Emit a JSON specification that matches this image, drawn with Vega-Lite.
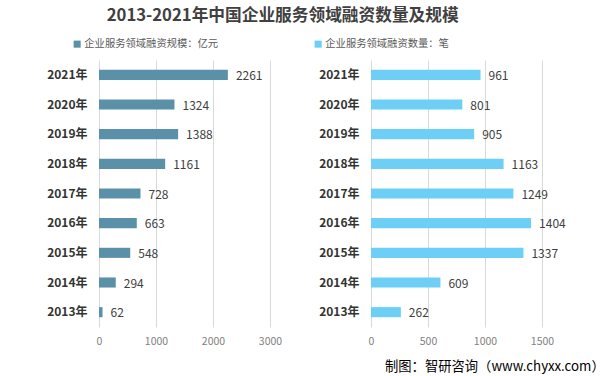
{
  "$schema": "https://vega.github.io/schema/vega-lite/v6.json",
  "padding": {"left": 46, "top": 8, "right": 32, "bottom": 2},
  "background": "#ffffff",
  "title": {
    "text": "2013-2021年中国企业服务领域融资数量及规模",
    "fontSize": 16.7,
    "fontWeight": "bold",
    "color": "#404040",
    "font": "Noto Sans CJK SC",
    "anchor": "middle",
    "dx": -43,
    "offset": 14
  },
  "datasets": {
    "d": [
      {"year": "2013年", "scale": 62, "count": 262},
      {"year": "2014年", "scale": 294, "count": 609},
      {"year": "2015年", "scale": 548, "count": 1337},
      {"year": "2016年", "scale": 663, "count": 1404},
      {"year": "2017年", "scale": 728, "count": 1249},
      {"year": "2018年", "scale": 1161, "count": 1163},
      {"year": "2019年", "scale": 1388, "count": 905},
      {"year": "2020年", "scale": 1324, "count": 801},
      {"year": "2021年", "scale": 2261, "count": 961}
    ]
  },
  "config": {
    "font": "Noto Sans CJK SC",
    "view": {"stroke": null},
    "axis": {"domain": false, "ticks": false, "title": null, "labelFlush": false},
    "concat": {"spacing": 101}
  },
  "bounds": "flush",
  "spacing": 101,
  "hconcat": [
    {
      "width": 171,
      "height": 267,
      "data": {"name": "d"},
      "encoding": {
        "y": {
          "field": "year", "type": "nominal", "sort": "descending",
          "scale": {"paddingInner": 0.66, "paddingOuter": 0.33},
          "axis": {"labelFontWeight": "bold", "labelColor": "#333333", "labelFontSize": 12, "labelPadding": 12, "grid": false}
        },
        "x": {
          "field": "scale", "type": "quantitative",
          "scale": {"domain": [0, 3000], "nice": false},
          "axis": {"values": [0, 1000, 2000, 3000], "format": "d", "grid": true, "gridColor": "#d9d9d9", "labelColor": "#808080", "labelFontSize": 10.5, "labelPadding": 9, "labelFlush": false}
        }
      },
      "layer": [
        {
          "mark": {"type": "bar"},
          "encoding": {
            "color": {
              "datum": "企业服务领域融资规模：亿元",
              "scale": {"range": ["#5B91A8"]},
              "legend": {"title": null, "orient": "none", "legendX": -27, "legendY": -21, "symbolType": "square", "symbolSize": 50, "labelFontSize": 10.3, "labelColor": "#595959", "labelOffset": 2}
            }
          }
        },
        {
          "mark": {"type": "text", "align": "left", "dx": 8, "dy": 1, "fontSize": 12, "color": "#404040"},
          "encoding": {"text": {"field": "scale", "type": "quantitative"}}
        }
      ]
    },
    {
      "width": 171,
      "height": 267,
      "data": {"name": "d"},
      "title": {
        "text": "制图：智研咨询（www.chyxx.com）",
        "orient": "bottom",
        "anchor": "end",
        "dx": 39,
        "offset": 13,
        "fontSize": 13.3,
        "fontWeight": "normal",
        "color": "#000000"
      },
      "encoding": {
        "y": {
          "field": "year", "type": "nominal", "sort": "descending",
          "scale": {"paddingInner": 0.66, "paddingOuter": 0.33},
          "axis": {"labelFontWeight": "bold", "labelColor": "#333333", "labelFontSize": 12, "labelPadding": 12, "grid": false}
        },
        "x": {
          "field": "count", "type": "quantitative",
          "scale": {"domain": [0, 1500], "nice": false},
          "axis": {"values": [0, 500, 1000, 1500], "format": "d", "grid": true, "gridColor": "#d9d9d9", "labelColor": "#808080", "labelFontSize": 10.5, "labelPadding": 9, "labelFlush": false}
        }
      },
      "layer": [
        {
          "mark": {"type": "bar"},
          "encoding": {
            "color": {
              "datum": "企业服务领域融资数量：笔",
              "scale": {"range": ["#6DCFF6"]},
              "legend": {"title": null, "orient": "none", "legendX": -58, "legendY": -21, "symbolType": "square", "symbolSize": 50, "labelFontSize": 10.3, "labelColor": "#595959", "labelOffset": 2}
            }
          }
        },
        {
          "mark": {"type": "text", "align": "left", "dx": 8, "dy": 1, "fontSize": 12, "color": "#404040"},
          "encoding": {"text": {"field": "count", "type": "quantitative"}}
        }
      ]
    }
  ],
  "resolve": {"scale": {"color": "independent", "x": "independent"}}
}
